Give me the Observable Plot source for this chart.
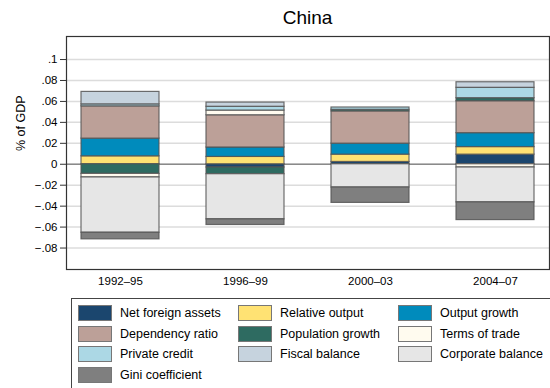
<!DOCTYPE html>
<html><head><meta charset="utf-8">
<script src="https://cdn.jsdelivr.net/npm/d3@7"></script>
<script src="https://cdn.jsdelivr.net/npm/@observablehq/plot@0.6"></script>
<style>
body{margin:0;background:#fff;font-family:"Liberation Sans",Arial,sans-serif;width:550px;height:388px;overflow:hidden;position:relative}
#title{position:absolute;left:66px;width:483px;top:0;height:30px;text-align:center;font-size:19px;line-height:30px;padding-top:3px;color:#000}
#chart{position:absolute;left:0;top:30px}
#legend{position:absolute;left:71px;top:298px;width:490px;height:100px;border:1px solid #444;box-sizing:border-box}
.item{position:absolute;font-size:12.5px;color:#000;white-space:nowrap;height:16px;line-height:16px}
.sw{position:absolute;left:0;top:0;width:34px;height:16px;box-sizing:border-box;border:1px solid #777}
.lb{position:absolute;left:42px;top:0}
</style></head>
<body>
<div id="title">China</div>
<div id="chart"></div>
<div id="legend"></div>
<script>
const periods = ["1992–95", "1996–99", "2000–03", "2004–07"];
const series = ["Net foreign assets", "Relative output", "Output growth", "Dependency ratio", "Population growth", "Terms of trade", "Private credit", "Fiscal balance", "Corporate balance", "Gini coefficient"];
const colors = ["#1b466e", "#ffe273", "#008bbc", "#bca098", "#2e6b61", "#fffbef", "#acd8e5", "#c6d3de", "#e6e6e6", "#7f7f7f"];
const netForeignAssets = [0, -0.0031, 0.0022, 0.0092];
const relativeOutput = [0.0076, 0.0070, 0.0070, 0.0072];
const outputGrowth = [0.0169, 0.0090, 0.0105, 0.0133];
const dependencyRatio = [0.0308, 0.0308, 0.0308, 0.0305];
const populationGrowth = [-0.0092, -0.0064, 0.0015, 0.0029];
const termsOfTrade = [-0.0034, 0.0045, 0, -0.0031];
const privateCredit = [0.0019, 0.0036, 0.0022, 0.0099];
const fiscalBalance = [0.0119, 0.0040, 0, 0.0053];
const corporateBalance = [-0.0528, -0.0431, -0.0222, -0.0333];
const giniCoefficient = [-0.0063, -0.0054, -0.0147, -0.0169];
const yTicks = [-0.08, -0.06, -0.04, -0.02, 0, 0.02, 0.04, 0.06, 0.08, 0.1];

const valueLists = [netForeignAssets, relativeOutput, outputGrowth, dependencyRatio, populationGrowth, termsOfTrade, privateCredit, fiscalBalance, corporateBalance, giniCoefficient];
const rows = [];
series.forEach((s, i) => periods.forEach((p, j) => {
  const v = valueLists[i][j];
  if (v !== 0) rows.push({series: s, period: p, value: v});
}));

const fmt = d => d === 0 ? "0" : (d < 0 ? "−" : "") + String(Math.abs(d)).replace(/^0/, "");

const chart = Plot.plot({
  width: 550, height: 262,
  marginTop: 6, marginBottom: 23, marginLeft: 66, marginRight: 1,
  style: {fontFamily: "'Liberation Sans', Arial, sans-serif", fontSize: "11.5px", color: "#000", background: "#fff"},
  x: {domain: periods, paddingInner: 0.38, paddingOuter: 0.12, label: null},
  y: {domain: [-0.1005, 0.122], label: null},
  color: {domain: series, range: colors},
  marks: [
    Plot.gridY(yTicks, {stroke: "#dcdcdc", strokeOpacity: 1, strokeWidth: 1.5}),
    Plot.ruleY([0], {stroke: "#8a8a8a", strokeWidth: 1.5}),
    Plot.barY(rows, {x: "period", y: "value", fill: "series", stroke: "#555", strokeWidth: 1.2, strokeOpacity: 0.85}),
    Plot.frame({stroke: "#333", strokeWidth: 1.2}),
    Plot.axisY(yTicks, {tickFormat: fmt, tickSize: 6, tickPadding: 3, label: null, stroke: "#333"}),
    Plot.axisX({tickSize: 0, tickPadding: 7, label: null}),
    Plot.text(["% of GDP"], {frameAnchor: "left", dx: -46, dy: -2, rotate: -90, fontSize: 12.5, fill: "#000"})
  ]
});
document.getElementById("chart").appendChild(chart);

const legend = document.getElementById("legend");
series.forEach((s, i) => {
  const col = i % 3, row = Math.floor(i / 3);
  const it = document.createElement("div");
  it.className = "item";
  it.style.left = (6 + col * 160) + "px";
  it.style.top = (6 + row * 20.7) + "px";
  it.innerHTML = `<div class="sw" style="background:${colors[i]}"></div><div class="lb">${s}</div>`;
  legend.appendChild(it);
});
</script>
</body></html>
